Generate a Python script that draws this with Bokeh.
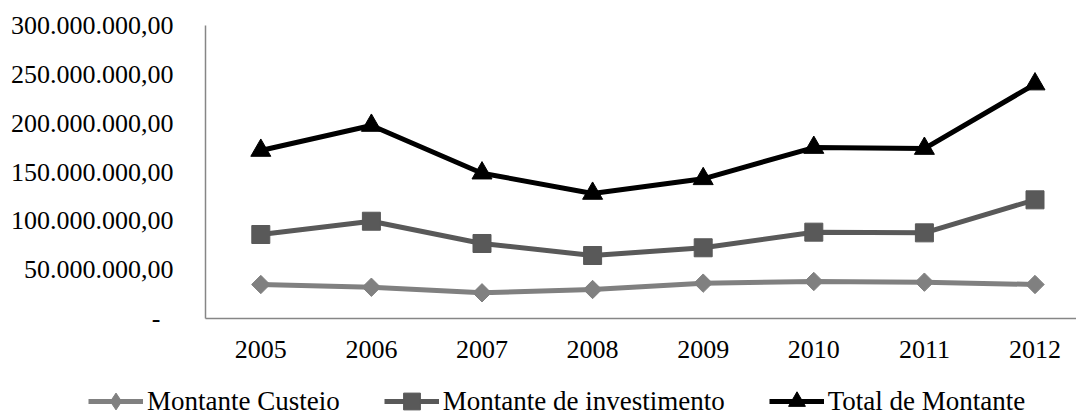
import numpy as np
from bokeh.plotting import figure
from bokeh.models import FixedTicker, Legend, LegendItem, Range1d
from bokeh.embed import file_html
from bokeh.resources import INLINE

years = ["2005", "2006", "2007", "2008", "2009", "2010", "2011", "2012"]
custeio = [34.8e6, 32.0e6, 26.3e6, 29.7e6, 36.2e6, 37.9e6, 37.2e6, 34.8e6]
investimento = [86.0e6, 99.6e6, 76.8e6, 64.5e6, 72.4e6, 88.4e6, 87.7e6, 121.5e6]
total = [172.0e6, 197.6e6, 148.8e6, 128.0e6, 143.0e6, 175.0e6, 174.0e6, 240.0e6]
series_names = ["Montante Custeio", "Montante de investimento", "Total de Montante"]
y_ticks = [0, 50000000, 100000000, 150000000, 200000000, 250000000, 300000000]
y_tick_labels = ["-\u00a0\u00a0", "50.000.000,00", "100.000.000,00", "150.000.000,00",
                 "200.000.000,00", "250.000.000,00", "300.000.000,00"]

FONT = "Liberation Serif"
FS = "26px"

W, H = 1076, 416
# layout geometry (pixels)
AX_LEFT, AX_TOP, AX_BOTTOM = 205, 25, 318
PX_PER_CAT = 110.6
Y_MAX = 300000000
PX_PER_Y = (AX_BOTTOM - AX_TOP) / Y_MAX

xs = list(range(len(years)))
x0 = -0.5 - AX_LEFT / PX_PER_CAT
x1 = -0.5 + (W - AX_LEFT) / PX_PER_CAT
y0 = -(H - AX_BOTTOM) / PX_PER_Y
y1 = Y_MAX + AX_TOP / PX_PER_Y

p = figure(width=W, height=H, output_backend="svg", toolbar_location=None,
           x_range=Range1d(x0, x1), y_range=Range1d(y0, y1),
           min_border_left=0, min_border_right=0, min_border_top=0, min_border_bottom=0)
p.outline_line_color = None
p.grid.visible = False
p.background_fill_color = "white"
p.border_fill_color = "white"

for ax in (p.xaxis[0], p.yaxis[0]):
    ax.axis_line_color = "#868686"
    ax.axis_line_width = 1.5
    ax.major_tick_line_color = None
    ax.minor_tick_line_color = None
    ax.major_tick_in = 0
    ax.major_tick_out = 0
    ax.minor_tick_in = 0
    ax.minor_tick_out = 0
    ax.major_label_text_font = FONT
    ax.major_label_text_font_size = FS
    ax.major_label_text_color = "black"

p.xaxis.ticker = FixedTicker(ticks=xs)
p.xaxis.major_label_overrides = {i: y for i, y in enumerate(years)}
p.xaxis.major_label_standoff = 22
p.xaxis.fixed_location = 0
p.xaxis.bounds = (-0.5, x1)

p.yaxis.ticker = FixedTicker(ticks=y_ticks)
p.yaxis.major_label_overrides = {t: l for t, l in zip(y_ticks, y_tick_labels)}
p.yaxis.major_label_standoff = 32
p.yaxis.fixed_location = -0.5
p.yaxis.bounds = (0, Y_MAX)

C1, C2, C3 = "#808080", "#595959", "black"

# Custeio
l1 = p.line(xs, custeio, line_color=C1, line_width=5)
s1 = p.scatter(xs, custeio, marker="square", angle=np.pi / 4, size=13,
               fill_color=C1, line_color=C1)
# diamond used for the legend swatch only (zero size on the plot)
d1 = p.scatter(xs, custeio, marker="diamond", size=0, fill_color=C1, line_color=C1)
# Investimento
l2 = p.line(xs, investimento, line_color=C2, line_width=5)
s2 = p.scatter(xs, investimento, marker="square", size=18,
               fill_color=C2, line_color=C2)
# Total
l3 = p.line(xs, total, line_color=C3, line_width=5)
s3 = p.scatter(xs, total, marker="triangle", size=20,
               fill_color=C3, line_color=C3)

legend = Legend(items=[LegendItem(label=series_names[0], renderers=[l1, d1]),
                       LegendItem(label=series_names[1], renderers=[l2, s2]),
                       LegendItem(label=series_names[2], renderers=[l3, s3])],
                orientation="horizontal", location=(88, -6))
legend.label_text_font = FONT
legend.label_text_font_size = "27px"
legend.label_text_color = "black"
legend.glyph_width = 55
legend.glyph_height = 42
legend.label_standoff = 4
legend.spacing = 44
legend.padding = 0
legend.margin = 0
legend.border_line_color = None
legend.background_fill_alpha = 0
p.add_layout(legend)

open("out.html", "w").write(file_html(p, INLINE))
